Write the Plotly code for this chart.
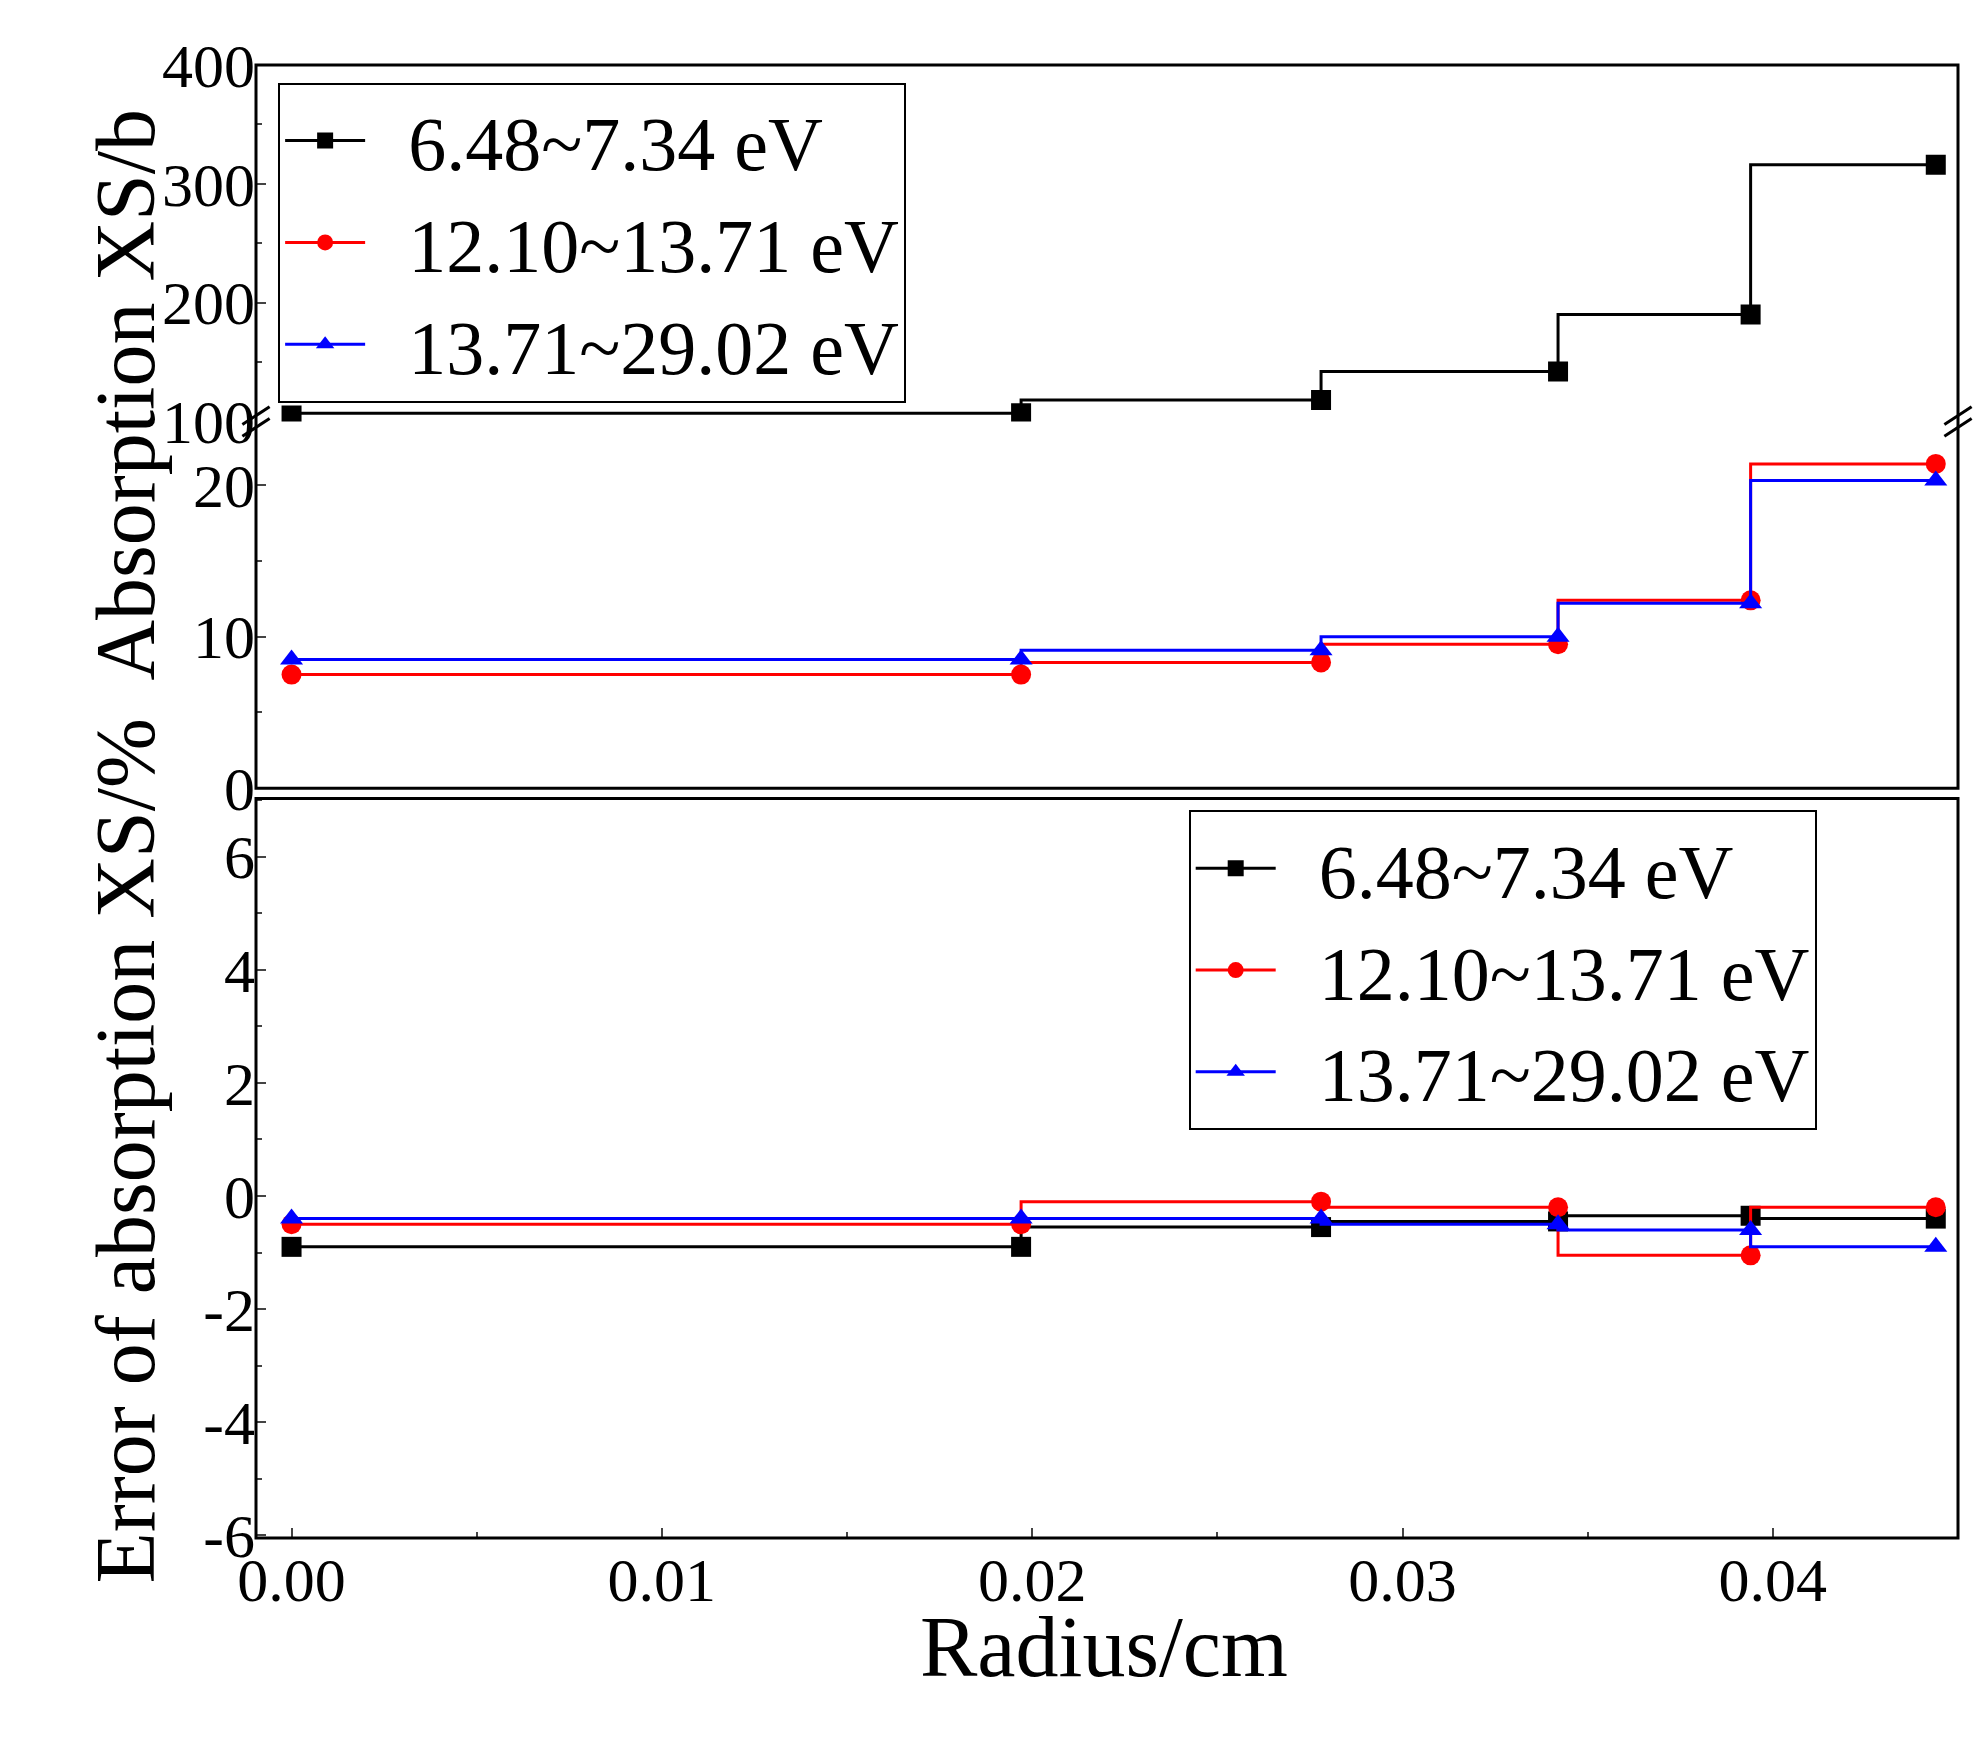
import plotly.graph_objects as go

# 반경 위치 (cm)
radius = [0.0, 0.0197, 0.0278, 0.0342, 0.0394, 0.0444]
names = ["6.48~7.34 eV", "12.10~13.71 eV", "13.71~29.02 eV"]

# 흡수 단면 (b / %)
xs_black = [105, 107, 118, 142, 190, 316]
xs_red = [7.5, 7.5, 8.3, 9.5, 12.4, 21.4]
xs_blue = [8.5, 8.5, 9.1, 10.0, 12.2, 20.3]

# 흡수 단면 오차 (%)
err_black = [-0.9, -0.9, -0.55, -0.45, -0.35, -0.4]
err_red = [-0.5, -0.5, -0.1, -0.2, -1.05, -0.2]
err_blue = [-0.4, -0.4, -0.4, -0.5, -0.6, -0.9]
err_ticks = [-6, -4, -2, 0, 2, 4, 6]

colors = ["black", "red", "blue"]
symbols = ["square", "circle", "triangle-up"]
FONT = "Liberation Serif, Times New Roman, serif"

fig = go.Figure()

def add(y, i, xa, ya, legend):
    fig.add_trace(go.Scatter(
        x=radius, y=y, mode="lines+markers", line_shape="vh",
        line=dict(color=colors[i], width=3),
        marker=dict(symbol=symbols[i], size=20, color=colors[i]),
        name="  " + names[i], xaxis=xa, yaxis=ya, legend=legend,
    ))

# 위쪽 패널 (끊긴 축)
add(xs_black, 0, "x3", "y3", "legend")
add(xs_red, 1, "x2", "y2", "legend")
add(xs_blue, 2, "x2", "y2", "legend")
# 아래쪽 패널
add(err_black, 0, "x", "y", "legend2")
add(err_red, 1, "x", "y", "legend2")
add(err_blue, 2, "x", "y", "legend2")

tickfont = dict(family=FONT, size=62, color="black")
xr = [-0.00096, 0.045]
yax = dict(ticks="inside", ticklen=10, tickwidth=2, showgrid=False, zeroline=False,
           showline=False, tickfont=tickfont, minor=dict(ticks="inside", ticklen=6, tickwidth=2))

fig.update_layout(
    width=1982, height=1750, plot_bgcolor="white", paper_bgcolor="white",
    margin=dict(l=248, r=32, t=57, b=220),
    font=dict(family=FONT, color="black"),
    xaxis=dict(range=xr, domain=[0, 1], anchor="y", tickvals=[0, 0.01, 0.02, 0.03, 0.04],
               ticktext=["0.00", "0.01", "0.02", "0.03", "0.04"], ticks="inside", ticklen=10,
               tickwidth=2, minor=dict(ticks="inside", ticklen=6, tickwidth=2, dtick=0.005),
               showgrid=False, zeroline=False, tickfont=tickfont),
    xaxis2=dict(range=xr, anchor="y2", matches="x", visible=False),
    xaxis3=dict(range=xr, anchor="y3", matches="x", visible=False),
    yaxis=dict(yax, domain=[0, 0.502], range=[-6.05, 7.03], tickvals=err_ticks,
               ticktext=[str(v) for v in err_ticks], minor_dtick=1),
    yaxis2=dict(yax, domain=[0.509, 0.758], range=[0, 24.2], dtick=10, minor_dtick=5),
    yaxis3=dict(yax, domain=[0.758, 1.0], range=[100, 400], dtick=100, minor_dtick=50),
    legend=dict(x=0.013, y=0.988, xanchor="left", yanchor="top", bordercolor="black",
                borderwidth=2, bgcolor="white", font=dict(family=FONT, size=76), itemwidth=80),
    legend2=dict(x=0.548, y=0.494, xanchor="left", yanchor="top", bordercolor="black",
                 borderwidth=2, bgcolor="white", font=dict(family=FONT, size=76), itemwidth=80),
)

# 프레임과 끊김 표시
line = dict(color="black", width=3)
fig.add_shape(type="rect", xref="paper", yref="paper", x0=0, x1=1, y0=0.509, y1=1.0, line=line)
fig.add_shape(type="rect", xref="paper", yref="paper", x0=0, x1=1, y0=0, y1=0.502, line=line)
for xc in (0, 1):
    for dy in (-0.004, 0.004):
        fig.add_shape(type="line", xref="paper", yref="paper", x0=xc - 0.008, x1=xc + 0.008,
                      y0=0.758 + dy - 0.006, y1=0.758 + dy + 0.006, line=line)

fig.add_annotation(text="Error of absorption XS/%  Absorption XS/b", xref="paper", yref="paper",
                   x=-0.105, y=0.47, textangle=-90, showarrow=False, font=dict(family=FONT, size=84))
fig.add_annotation(text="Radius/cm", xref="paper", yref="paper", x=0.498, y=-0.108,
                   showarrow=False, font=dict(family=FONT, size=86))

fig.write_html("out.html")
